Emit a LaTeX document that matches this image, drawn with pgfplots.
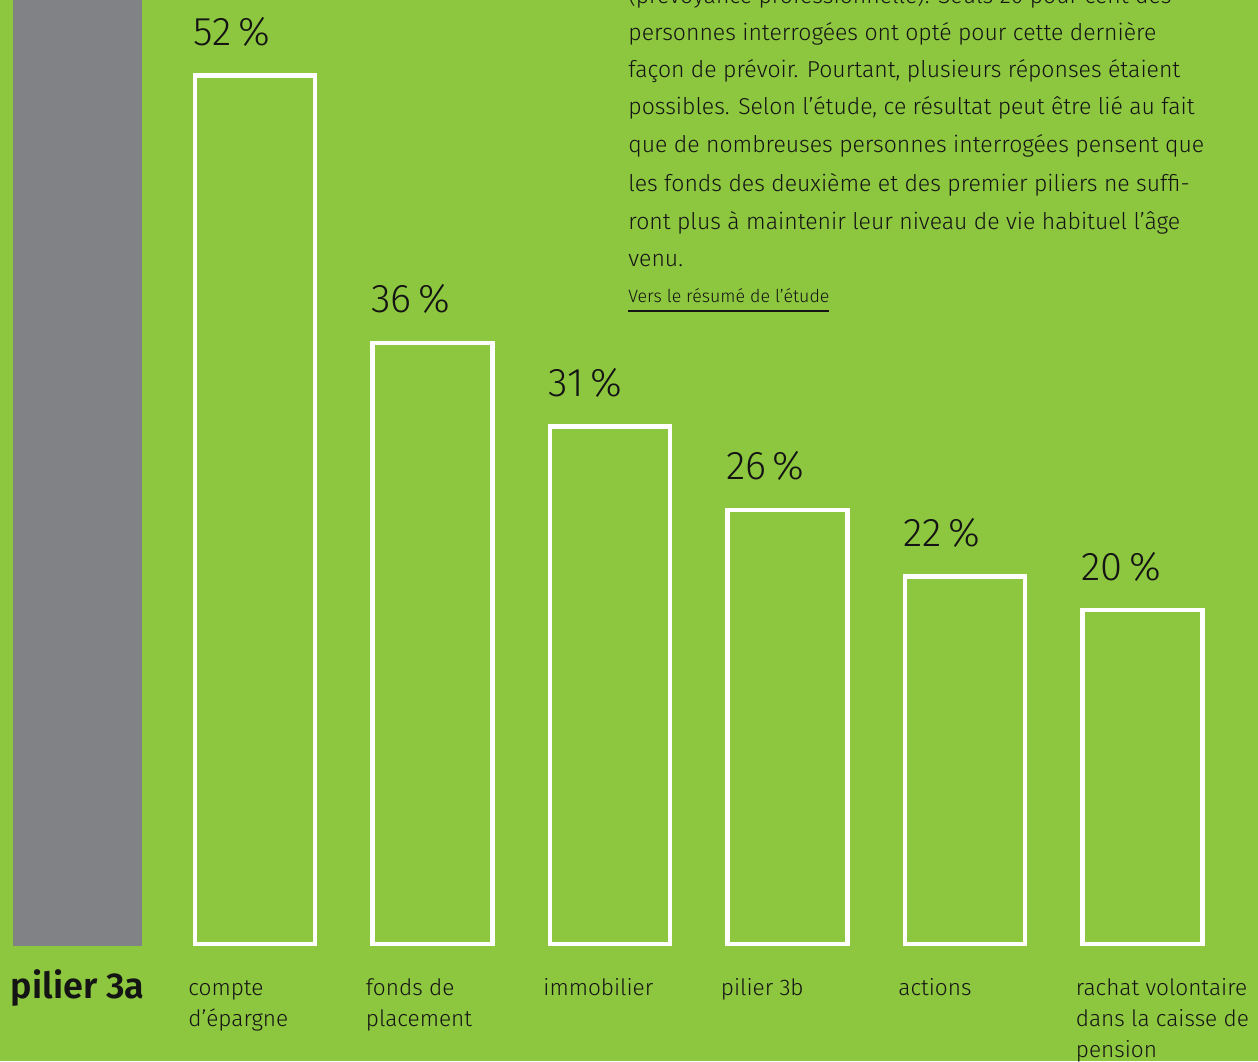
\documentclass[border=0pt]{standalone}
\usepackage{fontspec}
\setmainfont{Fira Sans Light}[BoldFont={Fira Sans SemiBold}]
\usepackage{pgfplots}
\pgfplotsset{compat=1.18}
\definecolor{bg}{HTML}{8DC63F}
\definecolor{greybar}{HTML}{808285}
\definecolor{ink}{HTML}{141414}
\newcommand\lab[1]{\begin{tabular}[t]{@{}l@{}}#1\end{tabular}}
\renewcommand\arraystretch{1}
\begin{document}
\begin{tikzpicture}
\begin{axis}[
  at={(0,0)}, anchor=south west,
  scale only axis, width=629pt, height=530.5pt,
  xmin=-0.43662, xmax=6.65070, ymin=-7.006, ymax=56.527,
  axis background/.style={fill=bg},
  axis line style={draw=none},
  tick style={draw=none},
  ytick=\empty,
  xtick={0,...,6},
  xticklabels={{\raisebox{-1.5pt}{\bfseries\fontsize{18}{20}\selectfont pilier 3a}}, {\lab{compte\\d'épargne}}, {\lab{fonds de\\placement}}, {\lab{immobilier}}, {\lab{pilier 3b}}, {\lab{actions}}, {\lab{rachat volontaire\\dans la caisse de\\pension}}},
  xticklabel style={anchor=base west, inner sep=0pt, xshift=-33.5pt, yshift=33pt, text=ink, font=\fontsize{11.3}{15.5}\selectfont},
  clip=true,
]
\addplot[ybar, bar width=62.5pt, bar shift=0pt, fill=greybar, draw=greybar, line width=2pt] coordinates {(0,100)};
\addplot[ybar, bar width=60pt, bar shift=0pt, draw=white, line width=2.2pt, fill=none,
  nodes near coords={\pgfmathprintnumber[assume math mode=true]{\pgfplotspointmeta}\,\%},
  every node near coord/.append style={anchor=base west, xshift=-31.75pt, yshift=15pt, font=\fontsize{20}{24}\selectfont, text=ink, inner sep=0pt}]
  coordinates {(1,52) (2,36) (3,31) (4,26) (5,22) (6,20)};
\end{axis}
\begin{scope}[every node/.style={anchor=base west, inner sep=0pt, text=ink, font=\fontsize{11.5}{14}\selectfont}]
\node at (314pt,528.5pt) {(prévoyance professionnelle). Seuls 20 pour cent des};
\node at (314pt,510pt) {personnes interrogées ont opté pour cette dernière};
\node at (314pt,491.5pt) {façon de prévoir. Pourtant, plusieurs réponses étaient};
\node at (314pt,473pt) {possibles. Selon l’étude, ce résultat peut être lié au fait};
\node at (314pt,454pt) {que de nombreuses personnes interrogées pensent que};
\node at (314pt,434.5pt) {les fonds des deuxième et des premier piliers ne suffi-};
\node at (314pt,415.5pt) {ront plus à maintenir leur niveau de vie habituel l’âge};
\node at (314pt,397pt) {venu.};
\node[font=\fontsize{8.9}{11}\selectfont] at (314pt,379pt) {Vers le résumé de l’étude};
\end{scope}
\draw[ink, line width=0.6pt] (314pt,375pt) -- (414.5pt,375pt);
\pgfresetboundingbox
\path[use as bounding box] (0,0) rectangle (629pt,530.5pt);
\end{tikzpicture}
\end{document}
